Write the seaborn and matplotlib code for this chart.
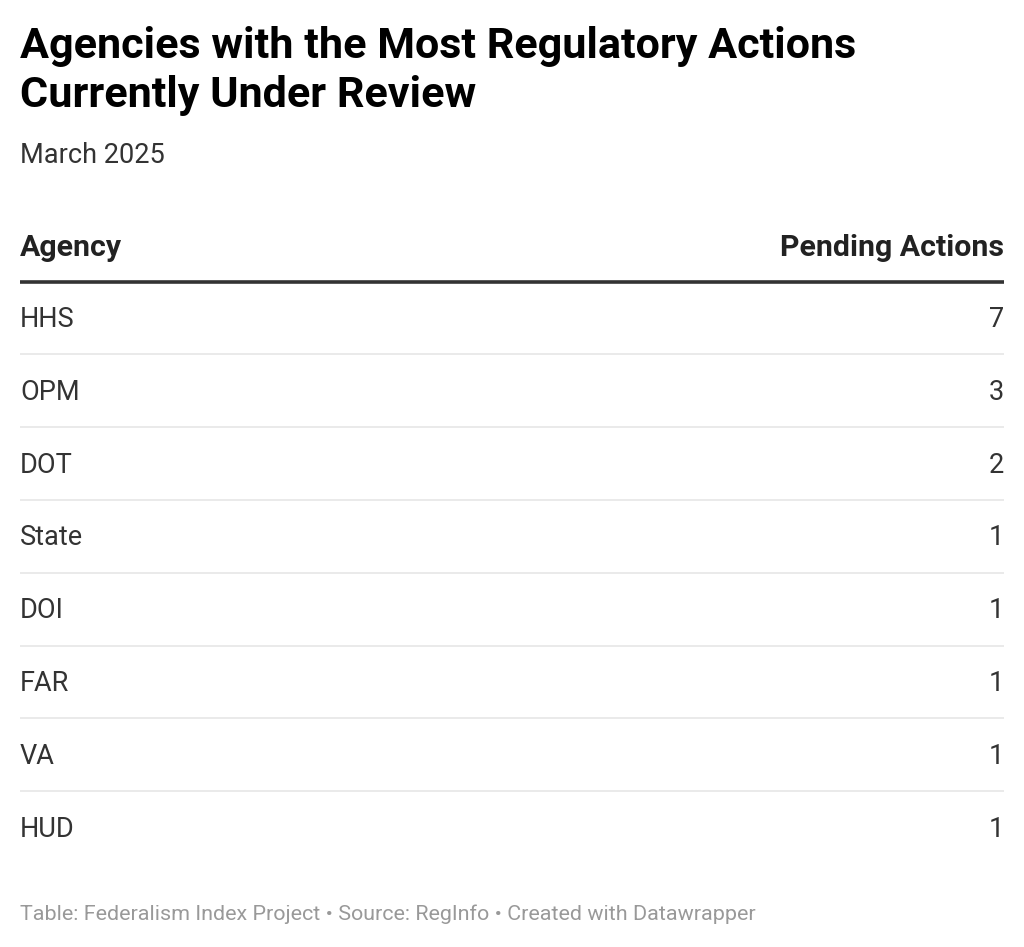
import matplotlib
matplotlib.use("Agg")
import matplotlib.pyplot as plt
import seaborn as sns

# table content
agencies = ["HHS", "OPM", "DOT", "State", "DOI", "FAR", "VA", "HUD"]
pending = [7, 3, 2, 1, 1, 1, 1, 1]
col_headers = ["Agency", "Pending Actions"]

title_lines = ["Agencies with the Most Regulatory Actions", "Currently Under Review"]
subtitle = "March 2025"
footer = "Table: Federalism Index Project \u2022 Source: RegInfo \u2022 Created with Datawrapper"

sns.set_theme(style="white")
plt.rcParams['font.family'] = ['Roboto', 'DejaVu Sans']

W, H = 1024, 947
fig = plt.figure(figsize=(W / 100, H / 100), dpi=100)
fig.patch.set_facecolor("white")


def fy(px):
    # pixel from top -> figure fraction
    return 1 - px / H


left_px, right_px = 20, 1004
fig.text(left_px / W, fy(58), title_lines[0], fontsize=31.1, fontweight="bold", color="#000000", va="baseline")
fig.text(left_px / W, fy(107), title_lines[1], fontsize=31.1, fontweight="bold", color="#000000", va="baseline")
fig.text(left_px / W, fy(163), subtitle, fontsize=19.5, color="#333333", va="baseline")
fig.text(left_px / W, fy(920), footer, fontsize=15.45, color="#999999", va="baseline")

# table axes: rows span from the header rule to the bottom of the last row
row_h = 72.8
top_px = 281.6
bottom_px = top_px + row_h * len(agencies)
ax = fig.add_axes([left_px / W, fy(bottom_px), (right_px - left_px) / W, (bottom_px - top_px) / H])
ax.set_xlim(0, 1)
ax.set_ylim(len(agencies) - 0.5, -0.5)
ax.axis("off")

base_off = 9 / row_h  # baseline sits a bit below row centre
for i, (name, val) in enumerate(zip(agencies, pending)):
    ax.text(0, i + base_off, name, fontsize=19.5, color="#333333", ha="left", va="baseline")
    ax.text(1, i + base_off, str(val), fontsize=19.5, color="#333333", ha="right", va="baseline")
    if i < len(agencies) - 1:
        ax.axhline(i + 0.5, color="#e6e6e6", lw=1.2)

# header row and thick rule
hdr_y = -0.5 - (279 - 253) / row_h
ax.text(0, hdr_y, col_headers[0], fontsize=21.8, fontweight="bold", color="#222222",
        ha="left", va="baseline", clip_on=False)
ax.text(1, hdr_y, col_headers[1], fontsize=21.8, fontweight="bold", color="#222222",
        ha="right", va="baseline", clip_on=False)
ax.plot([0, 1], [-0.5, -0.5], color="#333333", lw=2.6, clip_on=False, solid_capstyle="butt")

fig.savefig("out.png", dpi=100, facecolor="white")
